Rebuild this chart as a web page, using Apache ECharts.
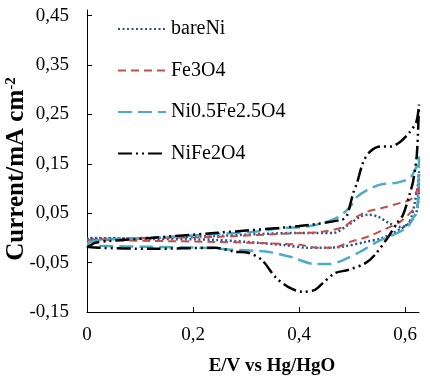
<!DOCTYPE html>
<html>
<head>
<meta charset="utf-8">
<script src="https://cdn.jsdelivr.net/npm/echarts@6/dist/echarts.min.js"></script>
<style>
  html, body { margin: 0; padding: 0; background: #fff; }
  #chart { width: 430px; height: 376px; }
</style>
</head>
<body>
<div id="chart"></div>
<script>
// series names, as in the legend
const seriesNames = ['bareNi', 'Fe3O4', 'Ni0.5Fe2.5O4', 'NiFe2O4']

// cyclic scans: forward sweep 0 -> 0.626 V, then back to 0 V  [E, current]
const bareNi = [
  [0, -0.002], [0.119, 0.0], [0.242, 0.004], [0.398, 0.01], [0.464, 0.01],
  [0.492, 0.026], [0.515, 0.043], [0.53, 0.047], [0.549, 0.043], [0.568, 0.031],
  [0.591, 0.022], [0.604, 0.026], [0.612, 0.043], [0.619, 0.077], [0.624, 0.108],
  [0.626, 0.135],
  [0.625, 0.08], [0.621, 0.051], [0.613, 0.037], [0.594, 0.02], [0.557, 0.0],
  [0.525, -0.008], [0.481, -0.018], [0.449, -0.02], [0.417, -0.02], [0.368, -0.014],
  [0.242, -0.004], [0.119, -0.002], [0, 0.0]
]
const fe3o4 = [
  [0, -0.004], [0.119, 0.0], [0.242, 0.002], [0.36, 0.008], [0.402, 0.01],
  [0.44, 0.012], [0.483, 0.022], [0.509, 0.043], [0.528, 0.053], [0.558, 0.061],
  [0.591, 0.071], [0.609, 0.077], [0.621, 0.093], [0.626, 0.11],
  [0.624, 0.07], [0.615, 0.057], [0.591, 0.033], [0.566, 0.02], [0.528, 0.002],
  [0.496, -0.008], [0.464, -0.02], [0.434, -0.02], [0.402, -0.014], [0.368, -0.012],
  [0.242, -0.008], [0.119, -0.006], [0, -0.004]
]
const ni05fe25o4 = [
  [0, -0.01], [0.025, -0.004], [0.119, 0.0], [0.213, 0.006], [0.308, 0.012],
  [0.37, 0.02], [0.421, 0.024], [0.472, 0.041], [0.496, 0.063], [0.509, 0.083],
  [0.528, 0.097], [0.553, 0.108], [0.585, 0.112], [0.609, 0.122], [0.621, 0.144],
  [0.626, 0.165],
  [0.624, 0.077], [0.62, 0.051], [0.604, 0.022], [0.585, 0.01], [0.547, -0.008],
  [0.515, -0.028], [0.483, -0.045], [0.458, -0.053], [0.43, -0.053], [0.383, -0.038],
  [0.34, -0.028], [0.275, -0.024], [0.219, -0.02], [0.119, -0.018], [0.025, -0.016],
  [0, -0.014]
]
const nife2o4 = [
  [0, -0.02], [0.015, -0.01], [0.043, -0.006], [0.12, 0.0], [0.24, 0.01],
  [0.4, 0.024], [0.481, 0.037], [0.49, 0.045], [0.502, 0.091], [0.509, 0.111],
  [0.521, 0.154], [0.534, 0.175], [0.553, 0.185], [0.572, 0.185], [0.591, 0.195],
  [0.609, 0.215], [0.621, 0.235], [0.626, 0.27],
  [0.622, 0.17], [0.615, 0.115], [0.609, 0.091], [0.596, 0.047], [0.585, 0.031],
  [0.568, 0.002], [0.543, -0.034], [0.525, -0.051], [0.492, -0.065], [0.468, -0.071],
  [0.445, -0.091], [0.43, -0.105], [0.406, -0.109], [0.379, -0.099], [0.355, -0.079],
  [0.33, -0.045], [0.304, -0.03], [0.279, -0.028], [0.242, -0.02], [0.119, -0.022],
  [0.025, -0.02], [0, -0.018]
]

const xTicks = [0, 0.2, 0.4, 0.6]
const yTicks = [-0.15, -0.05, 0.05, 0.15, 0.25, 0.35, 0.45]

const serif = 'Liberation Serif'
const comma = (s) => s.replace('.', ',')

function lineSeries(name, data, color, type, width) {
  return {
    name,
    type: 'line',
    data,
    symbol: 'none',
    showSymbol: false,
    smooth: 0.3,
    lineStyle: { color, type, width },
    itemStyle: { color }
  }
}

const chart = echarts.init(document.getElementById('chart'), null, { renderer: 'canvas' })
chart.setOption({
  animation: false,
  backgroundColor: '#fff',
  grid: { left: 87, right: 11, top: 10, bottom: 64, outerBoundsMode: 'none' },
  legend: {
    orient: 'vertical',
    left: 112,
    top: 14,
    itemWidth: 48,
    itemHeight: 14,
    itemGap: 21.5,
    itemStyle: { opacity: 0 },
    textStyle: { fontFamily: serif, fontSize: 20, color: '#000' },
    data: seriesNames
  },
  xAxis: {
    type: 'value',
    min: 0,
    max: 0.626,
    splitLine: { show: false },
    axisLine: { onZero: false, lineStyle: { color: '#000', width: 1 } },
    axisTick: { inside: true, length: 5, customValues: xTicks, lineStyle: { color: '#000' } },
    axisLabel: {
      customValues: xTicks,
      margin: 14,
      fontFamily: serif,
      fontSize: 19,
      color: '#000',
      formatter: (v) => (v === 0 ? '0' : comma(v.toFixed(1)))
    },
    name: 'E/V vs Hg/HgO',
    nameLocation: 'middle',
    nameGap: 45,
    nameMoveOverlap: false,
    nameTextStyle: {
      fontFamily: serif, fontSize: 19, fontWeight: 'bold', color: '#000',
      padding: [0, 0, 0, 38]
    }
  },
  yAxis: {
    type: 'value',
    min: -0.15,
    max: 0.4616,
    splitLine: { show: false },
    axisLine: { onZero: false, lineStyle: { color: '#000', width: 1 } },
    axisTick: { inside: true, length: 5, customValues: yTicks, lineStyle: { color: '#000' } },
    axisLabel: {
      customValues: yTicks,
      margin: 18,
      fontFamily: serif,
      fontSize: 19,
      color: '#000',
      formatter: (v) => comma(v.toFixed(2))
    },
    name: '{b|Current/mA cm}{sup|-2}',
    nameLocation: 'middle',
    nameGap: 58,
    nameMoveOverlap: false,
    nameTextStyle: {
      padding: [0, 16, 0, 0],
      rich: {
        b: { fontFamily: serif, fontSize: 25, fontWeight: 'bold', color: '#000' },
        sup: { fontFamily: serif, fontSize: 15, fontWeight: 'bold', color: '#000', verticalAlign: 'top' }
      }
    }
  },
  series: [
    lineSeries('bareNi', bareNi, '#2F4F8F', [2, 2.5], 2.5),
    lineSeries('Fe3O4', fe3o4, '#C0504D', [8, 5], 2),
    lineSeries('Ni0.5Fe2.5O4', ni05fe25o4, '#4BACC6', [14, 6], 2.5),
    lineSeries('NiFe2O4', nife2o4, '#000000', [14, 4, 2, 4, 2, 4], 2.5)
  ]
})
</script>
</body>
</html>
